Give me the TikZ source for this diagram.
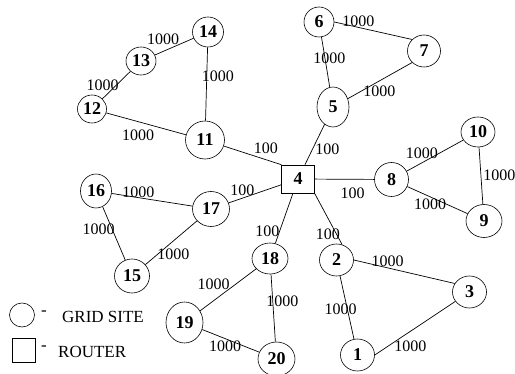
\documentclass[tikz,border=0pt]{standalone}
\usepackage{fontspec}
\setmainfont{Liberation Serif}
\usetikzlibrary{shapes.geometric}

\begin{document}
\begin{tikzpicture}[x=1pt, y=-1pt]
    \tikzstyle{site} = [draw, ellipse, line width=0.6pt, inner sep=0pt,
        minimum width=34pt, minimum height=32pt,
        font=\fontsize{18}{18}\selectfont\bfseries]
    \tikzstyle{router} = [draw, rectangle, line width=0.6pt, inner sep=0pt,
        minimum width=32.6pt, minimum height=28pt,
        font=\fontsize{18}{18}\selectfont\bfseries]
    \tikzstyle{link} = [line width=0.7pt]
    \tikzstyle{cost} = [inner sep=0pt, font=\fontsize{16}{16}\selectfont]
    \tikzstyle{legend} = [inner sep=0pt, font=\fontsize{17}{17}\selectfont]
    \useasboundingbox (0,0) rectangle (515,374);

    % sites and the router
    \node[site] (n1) at (357.5,355) {1};
    \node[site] (n2) at (336.5,260) {2};
    \node[site] (n3) at (469.5,292) {3};
    \node[router] (n4) at (298,179) {4};
    \node[site, minimum width=32pt, minimum height=40pt] (n5) at (333,107) {5};
    \node[site, minimum width=30pt, minimum height=30pt] (n6) at (319,22) {6};
    \node[site, minimum width=33pt] (n7) at (424,51) {7};
    \node[site, minimum height=34pt] (n8) at (391.5,179.5) {8};
    \node[site, minimum width=36pt, minimum height=33pt] (n9) at (484,221) {9};
    \node[site, minimum height=30pt] (n10) at (478,132) {10};
    \node[site, minimum width=39pt, minimum height=38pt] (n11) at (205,140) {11};
    \node[site, minimum width=29pt, minimum height=28pt] (n12) at (92,109) {12};
    \node[site, minimum width=30pt, minimum height=28pt] (n13) at (141,61) {13};
    \node[site, minimum width=31pt, minimum height=30pt] (n14) at (208,32) {14};
    \node[site, minimum width=35pt, minimum height=34pt] (n15) at (132,276) {15};
    \node[site, minimum width=31pt, minimum height=34pt] (n16) at (96,191) {16};
    \node[site, minimum width=37pt, minimum height=35pt] (n17) at (211,209) {17};
    \node[site, minimum width=36pt, minimum height=31pt] (n18) at (270,258.5) {18};
    \node[site, minimum width=37pt, minimum height=41pt] (n19) at (184.5,322.5) {19};
    \node[site, minimum width=37pt, minimum height=34pt] (n20) at (276.5,359) {20};

    % links with their costs
    \draw[link] (n13) -- node[cost, pos=.21, above=6pt] {1000} (n14);
    \draw[link] (n12) -- node[cost, pos=.5, left=-2.5pt] {1000} (n13);
    \draw[link] (n14) -- node[cost, pos=.4, right=-5.2pt] {1000} (n11);
    \draw[link] (n12) -- node[cost, pos=.4, below=8pt] {1000} (n11);
    \draw[link] (n11) -- node[cost, pos=.73, above=5.5pt] {100} (n4.north west);
    \draw[link] (n6.east) -- node[cost, pos=.31, above=0pt] {1000} (n7.north west);
    \draw[link] (n6) -- node[cost, pos=.43, right=-12pt] {1000} (n5);
    \draw[link] (n5) -- node[cost, pos=.49, below=4.5pt] {1000} (n7.south west);
    \draw[link] (n5) -- node[cost, pos=.61, right=2.4pt] {100} (n4);
    \draw[link] (n4) -- node[cost, pos=.64, below=7.9pt] {100} (n8);
    \draw[link] (n8) -- node[cost, pos=.27, above=3.9pt] {1000} (n10);
    \draw[link] (n10) -- node[cost, pos=.5, right=2pt] {1000} (n9);
    \draw[link] (n8) -- node[cost, pos=.38, below=1.8pt] {1000} (n9);
    \draw[link] (n4) -- node[cost, pos=.75, left=0pt] {100} (n18);
    \draw[link] (n4.south east) -- node[cost, pos=.79, left=-4pt] {100} (n2.70);
    \draw[link] (n17) -- node[cost, pos=.26, above=2pt] {100} (n4);
    \draw[link] (n16) -- node[cost, pos=.33, above=-0.6pt] {1000} (n17);
    \draw[link] (n16) -- node[cost, pos=.42, left=-2.8pt] {1000} (n15);
    \draw[link] (n17) -- node[cost, pos=.46, below=8pt] {1000} (n15);
    \draw[link] (n18) -- node[cost, pos=.76, above=11pt] {1000} (n19);
    \draw[link] (n18) -- node[cost, pos=.4, right=-6.8pt] {1000} (n20);
    \draw[link] (n19) -- node[cost, pos=.4, below=2pt] {1000} (n20);
    \draw[link] (n2.east) -- node[cost, pos=.335, above=1.3pt] {1000} (n3.150);
    \draw[link] (n2) -- node[cost, pos=.52, left=-9.7pt] {1000} (n1);
    \draw[link] (n3) -- node[cost, pos=.56, below=9.2pt] {1000} (n1.east);

    % legend
    \node[draw, ellipse, line width=0.6pt, minimum width=25pt, minimum height=24pt] (keysite) at (22,315) {};
    \node[legend] (dashsite) at (44,313) {-};
    \node[legend, anchor=west] (txtsite) at (62,317) {GRID SITE};
    \node[draw, rectangle, line width=0.6pt, minimum width=23pt, minimum height=24pt] (keyrouter) at (23.5,350) {};
    \node[legend] (dashrouter) at (44,348) {-};
    \node[legend, anchor=west] (txtrouter) at (58,352) {ROUTER};
\end{tikzpicture}
\end{document}
